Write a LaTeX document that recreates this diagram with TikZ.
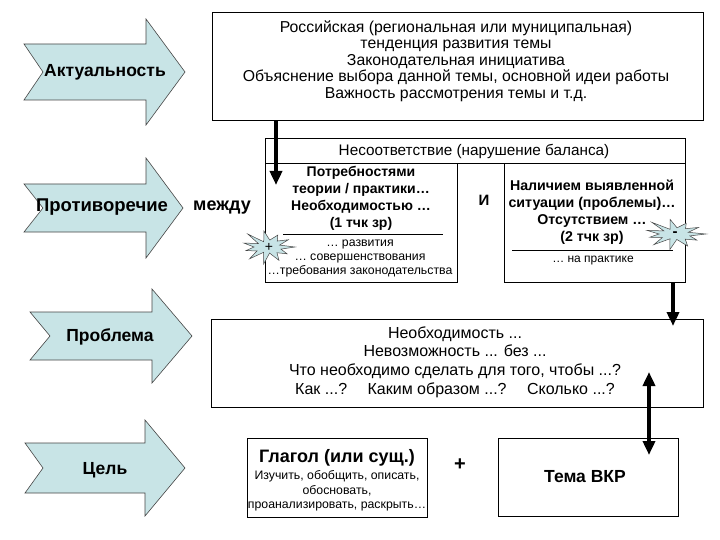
\documentclass[tikz,border=0pt]{standalone}
\usepackage{fontspec}
\setmainfont{Liberation Sans}
\usetikzlibrary{arrows.meta}
\definecolor{arrfill}{RGB}{200,228,230}
\definecolor{arredge}{RGB}{70,70,70}
\newcommand\chevarrow[7]{\draw[arrowshape] (#1,#5-#6) -- (#3,#5-#6) -- (#3,#5-#7) -- (#4,#5) -- (#3,#5+#7) -- (#3,#5+#6) -- (#1,#5+#6) -- (#2,#5) -- cycle;}
\newcommand\burstat[4]{\draw[burstshape] plot[samples at={0,...,21}, variable=\i] ({#1+#3*(mod(\i,2)==0?1:0.45)*(1+0.16*sin(\i*137))*cos(\i*360/22)}, {#2+#4*(mod(\i,2)==0?1:0.45)*(1+0.16*sin(\i*137))*sin(\i*360/22)}) -- cycle;}
\tikzset{
  arrowshape/.style={fill=arrfill, draw=arredge, line width=0.6pt, line join=miter},
  burstshape/.style={fill=arrfill, draw=arredge, line width=0.5pt, line join=miter},
  boxstyle/.style={draw=black, line width=0.8pt, inner sep=0pt},
  txt/.style={align=center, inner sep=0pt},
  thickarrow/.style={line width=3.5pt, -{Triangle[length=14pt,width=12pt]}},
  dblarrow/.style={line width=3.5pt, {Triangle[length=14pt,width=12pt]}-{Triangle[length=14pt,width=12pt]}}
}
\begin{document}
\begin{tikzpicture}[x=1pt,y=-1pt]
\useasboundingbox[fill=white] (0,0) rectangle (720,540);

% side arrows
\chevarrow{24}{43}{146}{185}{72}{28}{53}
\chevarrow{24}{43}{146}{183}{208}{24}{50}
\chevarrow{30}{50}{152}{192}{336}{24}{47}
\chevarrow{25}{43}{145}{185}{468}{25}{48}
\node[txt, font=\bfseries\fontsize{17.5}{20}\selectfont] (lab1) at (105,72) {Актуальность};
\node[txt, font=\bfseries\fontsize{18.5}{21}\selectfont] (lab2) at (102,207) {Противоречие};
\node[txt, font=\bfseries\fontsize{18}{21}\selectfont] (mezhdu) at (222,208) {между};
\node[txt, font=\bfseries\fontsize{17.5}{20}\selectfont] (lab3) at (110,337) {Проблема};
\node[txt, font=\bfseries\fontsize{17.5}{20}\selectfont] (lab4) at (105,470) {Цель};

% top box
\node[boxstyle, minimum width=491pt, minimum height=108pt] (box1) at (457.5,66) {};
\node[txt, font=\fontsize{15.8}{16.6}\selectfont] (box1t) at (456,61) {Российская (региональная или муниципальная)\\тенденция развития темы\\Законодательная инициатива\\Объяснение выбора данной темы, основной идеи работы\\Важность рассмотрения темы и т.д.};

% header and sub boxes
\node[boxstyle, minimum width=420pt, minimum height=25pt] (head) at (475,150.5) {};
\node[txt, font=\fontsize{15.3}{17}\selectfont] (headt) at (474,151) {Несоответствие (нарушение баланса)};
\node[boxstyle, minimum width=192pt, minimum height=119pt] (lbox) at (361,222.5) {};
\node[boxstyle, minimum width=181pt, minimum height=119pt] (rbox) at (594.5,222.5) {};

\node[txt, font=\bfseries\fontsize{14}{17}\selectfont] (lboxt) at (361,198) {Потребностями\\теории / практики…\\Необходимостью …\\(1 тчк зр)};
\draw[line width=0.8pt] (283,234) -- (443,234);
\node[txt, font=\fontsize{12.3}{14.2}\selectfont] (lboxs) at (360,258.5) {… развития\\… совершенствования\\…требования законодательства};

\node[txt, font=\bfseries\fontsize{14.2}{17}\selectfont] (rboxt) at (592,212.5) {Наличием выявленной\\ситуации (проблемы)…\\Отсутствием …\\(2 тчк зр)};
\draw[line width=0.8pt] (512,250) -- (673,250);
\node[txt, font=\fontsize{12}{14}\selectfont] (rboxs) at (593,261) {… на практике};

\node[txt, font=\bfseries\fontsize{15}{17}\selectfont] (iand) at (484,200) {И};

\burstat{268}{247}{27}{15}
\node[txt, font=\fontsize{14}{15}\selectfont] (plus) at (269,247) {+};
\burstat{675}{234}{31}{13.5}
\node[txt, font=\bfseries\fontsize{15}{15}\selectfont] (minus) at (675,234) {-};

% problem box
\node[boxstyle, minimum width=492pt, minimum height=88pt] (pbox) at (457,363) {};
\node[txt, font=\fontsize{16}{18.7}\selectfont] (pboxt) at (455,362) {Необходимость ...\\Невозможность ... без ...\\Что необходимо сделать для того, чтобы ...?\\Как ...?\quad\ Каким образом ...?\quad\ Сколько ...?};

% bottom boxes
\node[boxstyle, minimum width=180pt, minimum height=79pt] (gbox) at (337,477.5) {};
\node[txt, font=\bfseries\fontsize{18}{20}\selectfont] (gboxt) at (337,458) {Глагол (или сущ.)};
\node[txt, font=\fontsize{12.3}{14.5}\selectfont] (gboxs) at (337,491) {Изучить, обобщить, описать,\\обосновать,\\проанализировать, раскрыть…};
\node[txt, font=\bfseries\fontsize{20}{22}\selectfont] (plussign) at (460,465) {+};
\node[boxstyle, minimum width=180pt, minimum height=78pt] (tbox) at (588,477) {};
\node[txt, font=\bfseries\fontsize{17.5}{20}\selectfont] (tboxt) at (585,477) {Тема ВКР};

% connectors
\coordinate (a1e) at (276,185);
\draw[thickarrow] (box1.south -| a1e) -- (a1e);
\coordinate (a2e) at (673,326);
\draw[thickarrow] (rbox.south -| a2e) -- (a2e);
\coordinate (a3t) at (649,372);
\coordinate (a3b) at (649,455);
\draw[dblarrow] (a3t) -- (a3b);
\end{tikzpicture}
\end{document}
